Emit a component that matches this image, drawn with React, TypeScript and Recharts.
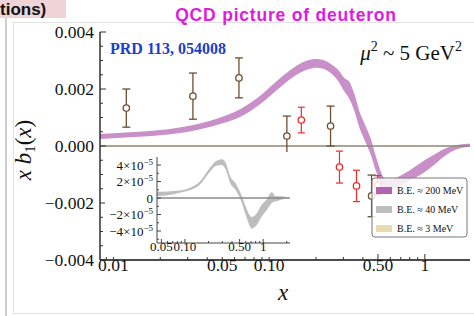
import React from 'react';
import { ComposedChart, Area, Scatter, ErrorBar, XAxis, YAxis, ReferenceLine } from 'recharts';

// purple band, B.E. ≈ 200 MeV
const bandX = [0.0082, 0.012, 0.02, 0.032, 0.045, 0.064, 0.09, 0.12, 0.15, 0.18, 0.2, 0.22, 0.25, 0.28, 0.305, 0.328, 0.355, 0.381, 0.415, 0.449, 0.49, 0.528, 0.569, 0.63, 0.72, 0.86, 1.0, 1.15, 1.29, 1.5, 1.81, 1.95];
const bandLow = [0.00025, 0.0003, 0.00038, 0.00053, 0.00072, 0.001, 0.00152, 0.0021, 0.0025, 0.0027, 0.00275, 0.00272, 0.00255, 0.00225, 0.0019, 0.00165, 0.00118, 0.00062, 0.00015, -0.0003, -0.00095, -0.0014, -0.00155, -0.0015, -0.00135, -0.00112, -0.00091, -0.00066, -0.00042, -0.00018, -0.00004, -0.00002];
const bandHigh = [0.00042, 0.00047, 0.00056, 0.00073, 0.00094, 0.00127, 0.00182, 0.00242, 0.00282, 0.00302, 0.00305, 0.00303, 0.00287, 0.00265, 0.00238, 0.00225, 0.00178, 0.0012, 0.00072, 0.00026, -0.00045, -0.00097, -0.00119, -0.00115, -0.001, -0.00074, -0.00049, -0.0003, -0.00014, 0, 0.00007, 0.00008];

// data points
const brownX = [0.0121, 0.0324, 0.064, 0.13, 0.248, 0.455];
const brownY = [0.00133, 0.00175, 0.00239, 0.00035, 0.0007, -0.00175];
const brownErr = [0.00067, 0.00081, 0.0007, 0.0007, 0.0007, 0.00073];
const redX = [0.161, 0.283, 0.364, 0.497];
const redY = [0.00091, -0.00074, -0.0014, -0.00137];
const redErr = [0.00045, 0.00056, 0.00055, 0.00033];

// inset grey band, B.E. ≈ 40 MeV
const insetX = [0.044, 0.06, 0.086, 0.12, 0.155, 0.21, 0.25, 0.295, 0.33, 0.38, 0.45, 0.53, 0.6, 0.716, 0.82, 0.96, 1.1, 1.29, 1.45, 1.7, 2.0];
const insetLow = [2.4e-6, 3.5e-6, 6.5e-6, 1.0e-5, 1.6e-5, 3.2e-5, 3.9e-5, 4.0e-5, 3.5e-5, 1.8e-5, 9e-6, -5e-6, -2.1e-5, -3.7e-5, -3.3e-5, -2.2e-5, -1.5e-5, -6e-6, -4e-6, -2e-6, -1e-6];
const insetHigh = [7.5e-6, 8e-6, 9e-6, 1.3e-5, 2.0e-5, 3.7e-5, 4.5e-5, 4.7e-5, 4.3e-5, 2.6e-5, 1.7e-5, 3e-6, -1.1e-5, -2.3e-5, -1.9e-5, -8e-6, -2e-6, 7e-6, 2e-6, 2e-6, 1e-6];

// ticks
const xMajor = [0.01, 0.05, 0.1, 0.5, 1];
const xMajorLabels = ['0.01', '0.05', '0.10', '0.50', '1'];
const xMinor = [0.009, 0.02, 0.03, 0.04, 0.06, 0.07, 0.08, 0.09, 0.2, 0.3, 0.4, 0.6, 0.7, 0.8, 0.9];
const yMajor = [-0.004, -0.002, 0, 0.002, 0.004];
const yMajorLabels = ['\u22120.004', '\u22120.002', '0.000', '0.002', '0.004'];
const yMinor = [-0.0035, -0.003, -0.0025, -0.0015, -0.001, -0.0005, 0.0005, 0.001, 0.0015, 0.0025, 0.003, 0.0035];

const insetXMajor = [0.05, 0.1, 0.5, 1];
const insetXLabels = ['0.05', '0.10', '0.50', '1'];
const insetXMinor = [0.06, 0.07, 0.08, 0.09, 0.2, 0.3, 0.4, 0.6, 0.7, 0.8, 0.9, 2];
const insetYMajor = [-4e-5, -2e-5, 0, 2e-5, 4e-5];
const insetYMant = ['\u22124', '\u22122', '0', '2', '4'];
const insetYMinor = [-5e-5, -3e-5, -1e-5, 1e-5, 3e-5];

const serif = '"Liberation Serif", "DejaVu Serif", serif';
const sans = '"Liberation Sans", Arial, sans-serif';

const bandData = bandX.map((x, i) => ({ x, band: [bandLow[i], bandHigh[i]] }));
const brownPts = brownX.map((x, i) => ({ x, y: brownY[i], err: brownErr[i] }));
const redPts = redX.map((x, i) => ({ x, y: redY[i], err: redErr[i] }));
const insetData = insetX.map((x, i) => ({ x, band: [insetLow[i], insetHigh[i]] }));

const allX = [...xMajor, ...xMinor];
const allY = [...yMajor, ...yMinor];

const makeTick = (side: string, majors: number[], labels: string[] | null, fs: number, big: number, small: number, color: string) => (props: any) => {
  const { x, y, payload } = props;
  const i = majors.indexOf(payload.value);
  const len = i >= 0 ? big : small;
  let line;
  if (side === 'bottom') line = <line x1={x} x2={x} y1={y} y2={y - len} stroke={color} />;
  else if (side === 'top') line = <line x1={x} x2={x} y1={y} y2={y + len} stroke={color} />;
  else if (side === 'left') line = <line x1={x} x2={x + len} y1={y} y2={y} stroke={color} />;
  else line = <line x1={x} x2={x - len} y1={y} y2={y} stroke={color} />;
  let label = null;
  if (labels && i >= 0) {
    if (side === 'bottom')
      label = <text x={x} y={y + fs * 0.64} textAnchor="middle" fontFamily={serif} fontSize={fs} fill="#111">{labels[i]}</text>;
    else if (side === 'left')
      label = <text x={x - 6} y={y + fs * 0.34} textAnchor="end" fontFamily={serif} fontSize={fs} fill="#111">{labels[i]}</text>;
  }
  return <g>{line}{label}</g>;
};

const InsetYTick = (props: any) => {
  const { x, y, payload } = props;
  const i = insetYMajor.indexOf(payload.value);
  const len = i >= 0 ? 4 : 2;
  return (
    <g>
      <line x1={x} x2={x + len} y1={y} y2={y} stroke="#444" />
      {i >= 0 && (
        <text x={x - 4} y={y + 4.5} textAnchor="end" fontFamily={serif} fontSize={13} fill="#111">
          {insetYMant[i] === '0' ? '0' : (
            <>
              {insetYMant[i]}×10
              <tspan dy={-5} fontSize={9}>{'\u22125'}</tspan>
            </>
          )}
        </text>
      )}
    </g>
  );
};

const circle = (color: string) => (p: any) => (
  <circle cx={p.cx} cy={p.cy} r={3.2} fill="#fff" stroke={color} strokeWidth={1.3} />
);

const brown = '#6e4e2e';
const red = '#f42a2a';

export default function App() {
  return (
    <div style={{ position: 'absolute', left: 0, top: 0, width: 474, height: 316, background: '#fff', overflow: 'hidden' }}>
      {/* page decorations */}
      <div style={{ position: 'absolute', left: 0, top: 0, width: 66, height: 18, background: '#f0d3d6' }} />
      <div style={{ position: 'absolute', left: 5, top: 18, width: 2, height: 298, background: '#cfcfcf' }} />
      <div style={{ position: 'absolute', left: 13, top: 22, width: 470, height: 290, border: '1px solid #e2e2e2' }} />

      <div style={{ position: 'absolute', left: 0, top: 0 }}>
        <ComposedChart width={474} height={316} data={bandData} margin={{ top: 32, right: 4, bottom: 0, left: 0 }}>
          <XAxis dataKey="x" type="number" scale="log" domain={[0.0082, 1.95]} allowDataOverflow ticks={allX} interval={0}
            height={56} tickSize={0} tickMargin={0} axisLine={{ stroke: '#111', strokeWidth: 1.3 }}
            tick={makeTick('bottom', xMajor, xMajorLabels, 17.5, 6, 3, '#333')} />
          <XAxis xAxisId="top" orientation="top" dataKey="x" type="number" scale="log" domain={[0.0082, 1.95]} allowDataOverflow
            ticks={allX} interval={0} height={0} tickSize={0} tickMargin={0} axisLine={{ stroke: '#555' }}
            tick={makeTick('top', xMajor, null, 0, 6, 3, '#555')} />
          <YAxis type="number" domain={[-0.004, 0.004]} allowDataOverflow ticks={allY} interval={0} width={100}
            tickSize={0} tickMargin={0} axisLine={{ stroke: '#111', strokeWidth: 1.3 }}
            tick={makeTick('left', yMajor, yMajorLabels, 17.5, 6, 3, '#333')} />
          <YAxis yAxisId="right" orientation="right" type="number" domain={[-0.004, 0.004]} allowDataOverflow ticks={allY}
            interval={0} width={0} tickSize={0} tickMargin={0} axisLine={{ stroke: '#555' }}
            tick={makeTick('right', yMajor, null, 0, 6, 3, '#555')} />
          <ReferenceLine y={0} stroke="#8c8872" strokeWidth={1.6} />
          <Area dataKey="band" type="monotone" stroke="none" fill="#c98fc9" fillOpacity={1} isAnimationActive={false} />
          <Scatter data={brownPts} dataKey="y" shape={circle(brown)} isAnimationActive={false}>
            <ErrorBar dataKey="err" direction="y" width={4} stroke={brown} strokeWidth={1.3} />
          </Scatter>
          <Scatter data={redPts} dataKey="y" shape={circle(red)} isAnimationActive={false}>
            <ErrorBar dataKey="err" direction="y" width={3.5} stroke={red} strokeWidth={1.2} />
          </Scatter>
        </ComposedChart>
      </div>

      {/* inset */}
      <div style={{ position: 'absolute', left: 105, top: 152, width: 190, height: 105, background: '#fff' }}>
        <ComposedChart width={190} height={105} data={insetData} margin={{ top: 5, right: 5, bottom: 0, left: 0 }}>
          <XAxis dataKey="x" type="number" scale="log" domain={[0.044, 2.2]} allowDataOverflow
            ticks={[...insetXMajor, ...insetXMinor]} interval={0} height={14} tickSize={0} tickMargin={0}
            axisLine={{ stroke: '#444' }} tick={makeTick('bottom', insetXMajor, insetXLabels, 13, 4, 2, '#444')} />
          <XAxis xAxisId="top" orientation="top" dataKey="x" type="number" scale="log" domain={[0.044, 2.2]} allowDataOverflow
            ticks={[...insetXMajor, ...insetXMinor]} interval={0} height={0} tickSize={0} tickMargin={0}
            axisLine={{ stroke: '#444' }} tick={makeTick('top', insetXMajor, null, 0, 4, 2, '#444')} />
          <YAxis type="number" domain={[-5.45e-5, 4.97e-5]} allowDataOverflow ticks={[...insetYMajor, ...insetYMinor]}
            interval={0} width={52} tickSize={0} tickMargin={0} axisLine={{ stroke: '#444' }} tick={InsetYTick} />
          <YAxis yAxisId="right" orientation="right" type="number" domain={[-5.45e-5, 4.97e-5]} allowDataOverflow
            ticks={[...insetYMajor, ...insetYMinor]} interval={0} width={0} tickSize={0} tickMargin={0}
            axisLine={{ stroke: '#444' }} tick={makeTick('right', insetYMajor, null, 0, 4, 2, '#444')} />
          <ReferenceLine y={0} stroke="#8a8a8a" strokeWidth={1.3} />
          <Area dataKey="band" type="monotone" stroke="none" fill="#bdbdbd" fillOpacity={1} isAnimationActive={false} />
        </ComposedChart>
      </div>

      {/* text overlay and legend */}
      <svg width={474} height={316} style={{ position: 'absolute', left: 0, top: 0, pointerEvents: 'none' }}>
        <text x={0} y={15} fontFamily={sans} fontWeight="bold" fontSize={17} fill="#111">tions)</text>
        <text x={286} y={21} textAnchor="middle" fontFamily={sans} fontWeight="bold" fontSize={17.5} letterSpacing={0.8} fill="#e01ade">
          QCD picture of deuteron
        </text>
        <text x={110} y={54} fontFamily={serif} fontWeight="bold" fontSize={16} fill="#1c3fcc">PRD 113, 054008</text>
        <text x={462} y={60} textAnchor="end" fontFamily={serif} fontSize={21} fill="#111">
          <tspan fontStyle="italic">μ</tspan>
          <tspan dy={-9} fontSize={14}>2</tspan>
          <tspan dy={9}> ~ 5 GeV</tspan>
          <tspan dy={-9} fontSize={14}>2</tspan>
        </text>
        <text x={283} y={300} textAnchor="middle" fontFamily={serif} fontStyle="italic" fontSize={23} fill="#111">x</text>
        <text transform="translate(31 150) rotate(-90)" textAnchor="middle" fontFamily={serif} fontSize={23} fill="#111">
          <tspan fontStyle="italic">x b</tspan>
          <tspan fontSize={15} dy={4}>1</tspan>
          <tspan dy={-4}>(</tspan>
          <tspan fontStyle="italic">x</tspan>
          <tspan>)</tspan>
        </text>

        <rect x={372} y={178} width={95} height={59} rx={3} fill="#fff" fillOpacity={0.82} stroke="#777" />
        <rect x={376} y={187} width={16} height={7} fill="#b063b0" />
        <rect x={376} y={206} width={16} height={7} fill="#bdbdbd" />
        <rect x={376} y={225} width={16} height={7} fill="#e8dcae" />
        <text x={397} y={193.5} fontFamily={serif} fontSize={10} fill="#111">B.E. ≈ 200 MeV</text>
        <text x={397} y={212.5} fontFamily={serif} fontSize={10} fill="#111">B.E. ≈ 40 MeV</text>
        <text x={397} y={231.5} fontFamily={serif} fontSize={10} fill="#111">B.E. ≈ 3 MeV</text>
      </svg>
    </div>
  );
}
